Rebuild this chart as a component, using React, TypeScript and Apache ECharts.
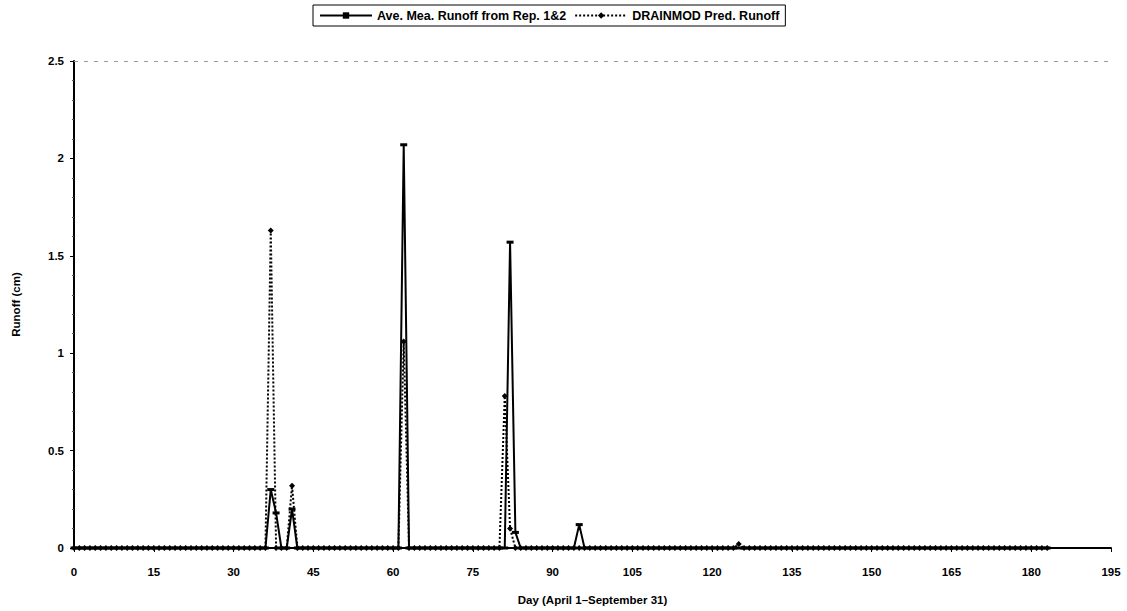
import React, { useEffect, useRef } from "react";
import * as echarts from "echarts";

// Day index = position in the arrays (day 0 .. day 183)
const measuredRunoff: number[] = [
  0, 0, 0, 0, 0, 0, 0, 0, 0, 0,
  0, 0, 0, 0, 0, 0, 0, 0, 0, 0,
  0, 0, 0, 0, 0, 0, 0, 0, 0, 0,
  0, 0, 0, 0, 0, 0, 0, 0.3, 0.18, 0,
  0, 0.2, 0, 0, 0, 0, 0, 0, 0, 0,
  0, 0, 0, 0, 0, 0, 0, 0, 0, 0,
  0, 0, 2.07, 0, 0, 0, 0, 0, 0, 0,
  0, 0, 0, 0, 0, 0, 0, 0, 0, 0,
  0, 0, 1.57, 0.08, 0, 0, 0, 0, 0, 0,
  0, 0, 0, 0, 0, 0.12, 0, 0, 0, 0,
  0, 0, 0, 0, 0, 0, 0, 0, 0, 0,
  0, 0, 0, 0, 0, 0, 0, 0, 0, 0,
  0, 0, 0, 0, 0, 0, 0, 0, 0, 0,
  0, 0, 0, 0, 0, 0, 0, 0, 0, 0,
  0, 0, 0, 0, 0, 0, 0, 0, 0, 0,
  0, 0, 0, 0, 0, 0, 0, 0, 0, 0,
  0, 0, 0, 0, 0, 0, 0, 0, 0, 0,
  0, 0, 0, 0, 0, 0, 0, 0, 0, 0,
  0, 0, 0, 0,
];

const predictedRunoff: number[] = [
  0, 0, 0, 0, 0, 0, 0, 0, 0, 0,
  0, 0, 0, 0, 0, 0, 0, 0, 0, 0,
  0, 0, 0, 0, 0, 0, 0, 0, 0, 0,
  0, 0, 0, 0, 0, 0, 0, 1.63, 0, 0,
  0, 0.32, 0, 0, 0, 0, 0, 0, 0, 0,
  0, 0, 0, 0, 0, 0, 0, 0, 0, 0,
  0, 0, 1.06, 0, 0, 0, 0, 0, 0, 0,
  0, 0, 0, 0, 0, 0, 0, 0, 0, 0,
  0, 0.78, 0.1, 0, 0, 0, 0, 0, 0, 0,
  0, 0, 0, 0, 0, 0, 0, 0, 0, 0,
  0, 0, 0, 0, 0, 0, 0, 0, 0, 0,
  0, 0, 0, 0, 0, 0, 0, 0, 0, 0,
  0, 0, 0, 0, 0, 0.02, 0, 0, 0, 0,
  0, 0, 0, 0, 0, 0, 0, 0, 0, 0,
  0, 0, 0, 0, 0, 0, 0, 0, 0, 0,
  0, 0, 0, 0, 0, 0, 0, 0, 0, 0,
  0, 0, 0, 0, 0, 0, 0, 0, 0, 0,
  0, 0, 0, 0, 0, 0, 0, 0, 0, 0,
  0, 0, 0, 0,
];

const seriesNames = ["Ave. Mea. Runoff from Rep. 1&2", "DRAINMOD Pred. Runoff"];
const xTitle = "Day (April 1–September 31)";
const yTitle = "Runoff (cm)";

const FONT = "'Liberation Sans', Arial, sans-serif";

export default function App() {
  const ref = useRef<HTMLDivElement>(null);
  useEffect(() => {
    if (!ref.current) return;
    const chart = echarts.init(ref.current, null, { renderer: "svg" });
    chart.setOption({
      animation: false,
      backgroundColor: "#ffffff",
      textStyle: { fontFamily: FONT },
      legend: {
        top: 5,
        left: 313,
        padding: [4, 6, 4, 6],
        borderColor: "#000",
        borderWidth: 1,
        borderRadius: 0,
        itemWidth: 52,
        itemHeight: 8,
        itemGap: 8,
        textStyle: { fontFamily: FONT, fontSize: 12.5, fontWeight: "bold", color: "#000" },
        data: seriesNames,
      },
      grid: { left: 74, right: 16, top: 61, bottom: 58, containLabel: false },
      xAxis: {
        type: "value",
        min: 0,
        max: 195,
        interval: 15,
        name: xTitle,
        nameLocation: "middle",
        nameGap: 46,
        nameTextStyle: { fontFamily: FONT, fontSize: 11.5, fontWeight: "bold", color: "#000" },
        axisLine: { lineStyle: { color: "#000", width: 2 } },
        axisTick: { show: true, length: 4, lineStyle: { color: "#000" } },
        axisLabel: { margin: 18, fontFamily: FONT, fontSize: 11.5, fontWeight: "bold", color: "#000" },
        splitLine: { show: false },
      },
      yAxis: {
        type: "value",
        min: 0,
        max: 2.5,
        interval: 0.5,
        name: yTitle,
        nameLocation: "middle",
        nameGap: 52,
        nameTextStyle: { fontFamily: FONT, fontSize: 11.5, fontWeight: "bold", color: "#000" },
        axisLine: { show: true, lineStyle: { color: "#000", width: 2 } },
        axisTick: { show: true, length: 4, lineStyle: { color: "#000" } },
        minorTick: { show: true, splitNumber: 5, length: 2, lineStyle: { color: "#555" } },
        axisLabel: { margin: 10, fontFamily: FONT, fontSize: 11.5, fontWeight: "bold", color: "#000" },
        splitLine: { show: false },
      },
      series: [
        {
          name: seriesNames[0],
          type: "line",
          data: measuredRunoff.map((v, i) => [i, v]),
          symbol: "rect",
          symbolSize: [7, 3],
          showAllSymbol: true,
          lineStyle: { color: "#000", width: 2, type: "solid" },
          itemStyle: { color: "#000" },
          markLine: {
            silent: true,
            symbol: "none",
            label: { show: false },
            lineStyle: { color: "#999", width: 1, type: [4, 6] },
            data: [{ yAxis: 2.5 }],
          },
          z: 3,
        },
        {
          name: seriesNames[1],
          type: "line",
          data: predictedRunoff.map((v, i) => [i, v]),
          symbol: "diamond",
          symbolSize: 6,
          showAllSymbol: true,
          lineStyle: { color: "#000", width: 2, type: [2, 2] },
          itemStyle: { color: "#000" },
          z: 2,
        },
      ],
    });
    return () => chart.dispose();
  }, []);
  return (
    <div
      ref={ref}
      style={{ position: "absolute", left: 0, top: 0, width: 1127, height: 611 }}
    />
  );
}
